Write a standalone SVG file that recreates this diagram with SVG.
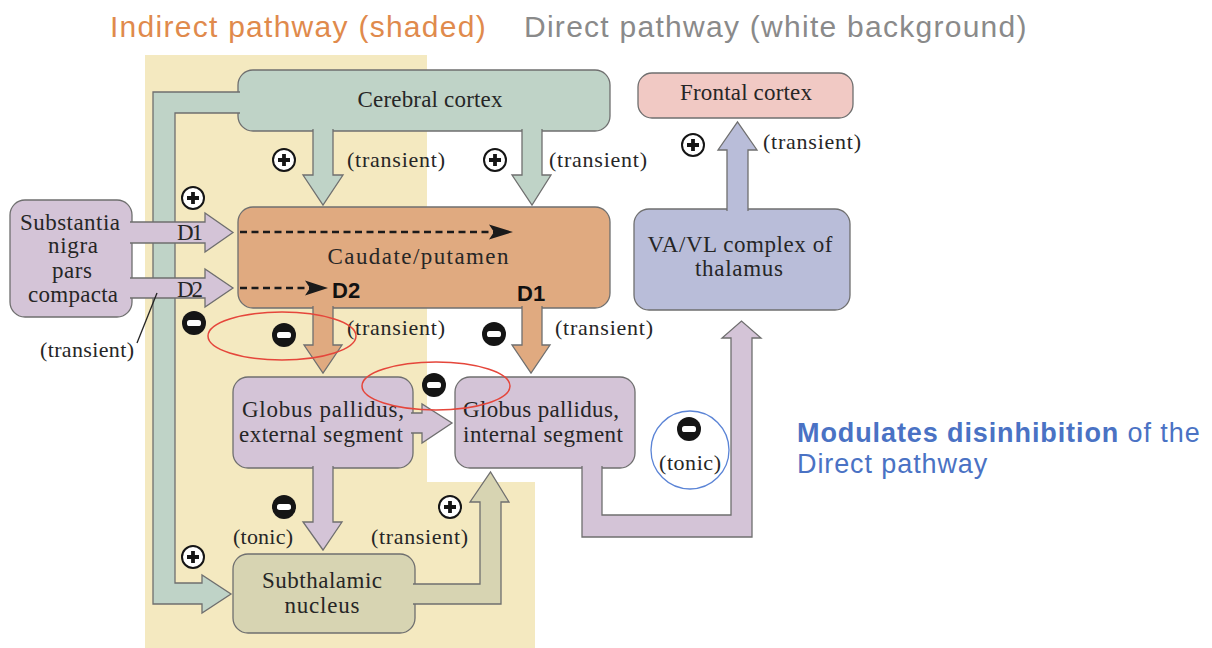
<svg xmlns="http://www.w3.org/2000/svg" xmlns:xlink="http://www.w3.org/1999/xlink" width="1212" height="648" viewBox="0 0 1212 648">
<style>
.node{stroke:#6f6f6f;stroke-width:1.3}
.conn{stroke:#6f6f6f;stroke-width:1.3;stroke-linejoin:miter}
.sf{font-family:"Liberation Serif","Times New Roman",serif;font-size:23px;fill:#262626}
.lab{font-family:"Liberation Serif","Times New Roman",serif;font-size:22px;fill:#262626}
.bold{font-family:"Liberation Sans",Arial,sans-serif;font-size:22px;font-weight:bold;fill:#111}
.title{font-family:"Liberation Sans",Arial,sans-serif;font-size:30px;letter-spacing:1.27px}
.mod{font-family:"Liberation Sans",Arial,sans-serif;font-size:27px;fill:#4a72c4;letter-spacing:0.9px}
.green{fill:#bfd3c7}.orange{fill:#e0aa80}.lilac{fill:#d4c4d7}.khaki{fill:#d7d4b2}.lav{fill:#b9bdd9}.pink{fill:#f1c9c4}
.dash{fill:none;stroke:#1a1a1a;stroke-width:2.6;stroke-dasharray:7 4.5}
.red{fill:none;stroke:#e5463b;stroke-width:1.5}
</style>
<defs>
<g id="plus"><circle r="11" fill="#fff" stroke="#151515" stroke-width="2"/><path d="M-6,0H6M0,-6V6" stroke="#151515" stroke-width="3.8"/></g>
<g id="minus"><circle r="12" fill="#151515"/><rect x="-7" y="-3" width="14" height="6" rx="2.6" fill="#fff"/></g>
</defs>
<rect width="1212" height="648" fill="#fff"/>
<path d="M145,55H427V482H535V648H145Z" fill="#f4e9c0"/>
<text class="title" x="110" y="37" fill="#e08a4c">Indirect pathway (shaded)</text>
<text class="title" x="524" y="37" fill="#8a8a8a">Direct pathway (white background)</text>

<g id="cortex"><rect class="node green" x="238" y="70" width="372" height="61" rx="15"/><text class="sf" x="430" y="107" text-anchor="middle" textLength="145" lengthAdjust="spacing">Cerebral cortex</text></g>
<g id="caudate"><rect class="node orange" x="238" y="207" width="372" height="101" rx="15"/><text class="sf" x="418" y="264" text-anchor="middle" textLength="181" lengthAdjust="spacing">Caudate/putamen</text></g>
<g id="frontal"><rect class="node pink" x="638" y="73" width="215" height="45" rx="14"/><text class="sf" x="746" y="100" text-anchor="middle" textLength="132" lengthAdjust="spacing">Frontal cortex</text></g>
<g id="vavl"><rect class="node lav" x="634" y="209" width="216" height="101" rx="15"/><text class="sf" x="740" y="252" text-anchor="middle" textLength="185" lengthAdjust="spacing">VA/VL complex of</text><text class="sf" x="739" y="276" text-anchor="middle" textLength="88" lengthAdjust="spacing">thalamus</text></g>
<g id="sn"><rect class="node lilac" x="10" y="200" width="122" height="117" rx="15"/><text class="sf" x="70" y="230" text-anchor="middle" textLength="100" lengthAdjust="spacing">Substantia</text><text class="sf" x="73" y="253" text-anchor="middle" textLength="50" lengthAdjust="spacing">nigra</text><text class="sf" x="72" y="278" text-anchor="middle" textLength="40" lengthAdjust="spacing">pars</text><text class="sf" x="73" y="302" text-anchor="middle" textLength="90" lengthAdjust="spacing">compacta</text></g>
<g id="gpe"><rect class="node lilac" x="233" y="377" width="180" height="91" rx="15"/><text class="sf" x="323" y="417" text-anchor="middle" textLength="162" lengthAdjust="spacing">Globus pallidus,</text><text class="sf" x="321" y="442" text-anchor="middle" textLength="164" lengthAdjust="spacing">external segment</text></g>
<g id="gpi"><rect class="node lilac" x="455" y="377" width="180" height="91" rx="15"/><text class="sf" x="541" y="417" text-anchor="middle" textLength="156" lengthAdjust="spacing">Globus pallidus,</text><text class="sf" x="543" y="442" text-anchor="middle" textLength="160" lengthAdjust="spacing">internal segment</text></g>
<g id="stn"><rect class="node khaki" x="233" y="554" width="182" height="79" rx="15"/><text class="sf" x="322" y="588" text-anchor="middle" textLength="120" lengthAdjust="spacing">Subthalamic</text><text class="sf" x="322" y="613" text-anchor="middle" textLength="75" lengthAdjust="spacing">nucleus</text></g>

<g id="connectors">
<path class="conn green" d="M240,92H153V604H202V613L231,594L202,575V583H175V113H240"/>
<path class="conn green" d="M313,129V175H303L323,205L343,175H333V129"/>
<path class="conn green" d="M522,129V175H512L532,205L551,175H542V129"/>
<path class="conn lilac" d="M130,222H205V213L233,232.5L205,252V243H130"/>
<path class="conn lilac" d="M130,278H205V269L233,288L205,307V298H130"/>
<path class="conn orange" d="M313,306V345H304L323,373L342,345H333V306"/>
<path class="conn orange" d="M522,306V345H512L531,373L550,345H542V306"/>
<path class="conn lilac" d="M411,413H422V404L452,423L422,443V433H411"/>
<path class="conn lilac" d="M313,466V522H303L323,550L342,522H333V466"/>
<path class="conn khaki" d="M413,584H480V502H470L490.5,472L509,502H501V604H413"/>
<path class="conn lilac" d="M582,466V537H752V338H761L741.5,321L722,338H731V515H602V466"/>
<path class="conn lav" d="M727,211V150H718L737.5,122L757,150H748V211"/>
<line class="dash" x1="240" y1="232" x2="494" y2="232"/>
<path d="M513,232L489,224.5L494,232L489,239.5Z" fill="#1a1a1a"/>
<line class="dash" x1="240" y1="288" x2="310" y2="288"/>
<path d="M328,288L305,280.5L310,288L305,295.5Z" fill="#1a1a1a"/>
<line x1="137" y1="343" x2="157" y2="293" stroke="#222" stroke-width="1.3"/>
</g>

<text class="bold" x="332" y="298">D2</text>
<text class="bold" x="517" y="301">D1</text>
<text class="sf" x="177" y="240" textLength="26" lengthAdjust="spacing">D1</text>
<text class="sf" x="177" y="297" textLength="26" lengthAdjust="spacing">D2</text>

<text class="lab" x="347" y="167" textLength="98" lengthAdjust="spacing">(transient)</text>
<text class="lab" x="549" y="167" textLength="98" lengthAdjust="spacing">(transient)</text>
<text class="lab" x="347" y="335" textLength="98" lengthAdjust="spacing">(transient)</text>
<text class="lab" x="555" y="335" textLength="98" lengthAdjust="spacing">(transient)</text>
<text class="lab" x="763" y="149" textLength="98" lengthAdjust="spacing">(transient)</text>
<text class="lab" x="371" y="544" textLength="97" lengthAdjust="spacing">(transient)</text>
<text class="lab" x="40" y="357" textLength="94" lengthAdjust="spacing">(transient)</text>
<text class="lab" x="233" y="544" textLength="60" lengthAdjust="spacing">(tonic)</text>
<text class="lab" x="690" y="470" text-anchor="middle" textLength="62" lengthAdjust="spacing">(tonic)</text>

<use xlink:href="#plus" x="284" y="160"/>
<use xlink:href="#plus" x="495" y="160"/>
<use xlink:href="#plus" x="193" y="198"/>
<use xlink:href="#plus" x="693" y="145"/>
<use xlink:href="#plus" x="450" y="507"/>
<use xlink:href="#plus" x="193" y="557"/>
<use xlink:href="#minus" x="194" y="323"/>
<use xlink:href="#minus" x="284" y="335"/>
<use xlink:href="#minus" x="494" y="334"/>
<use xlink:href="#minus" x="434" y="385"/>
<use xlink:href="#minus" x="284" y="507"/>
<use xlink:href="#minus" x="689" y="429"/>

<ellipse class="red" cx="282" cy="336" rx="74" ry="24"/>
<ellipse class="red" cx="436" cy="386" rx="74" ry="24"/>
<circle cx="690" cy="450" r="39" fill="none" stroke="#5b84d6" stroke-width="1.3"/>

<text class="mod" x="797" y="442"><tspan font-weight="bold">Modulates disinhibition</tspan> of the</text>
<text class="mod" x="797" y="473">Direct pathway</text>
</svg>
